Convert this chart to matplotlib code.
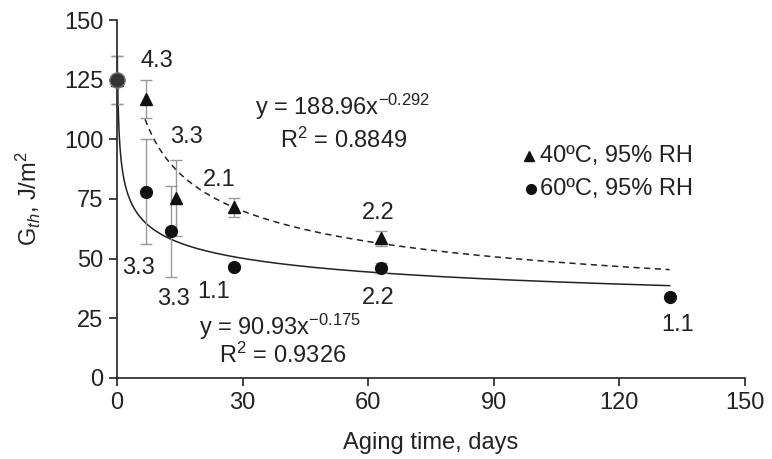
import numpy as np
import matplotlib.pyplot as plt

plt.rcParams['font.family'] = ['Liberation Sans', 'DejaVu Sans']
plt.rcParams['mathtext.fontset'] = 'custom'
plt.rcParams['mathtext.rm'] = 'Liberation Sans'
plt.rcParams['mathtext.it'] = 'Liberation Sans:italic'

# 40ºC, 95% RH
t40 = [0, 7, 14, 28, 63]
g40 = [125, 117, 75.5, 71.5, 58.5]
e40 = [10, 8, 16, 4, 3]

# 60ºC, 95% RH
t60 = [0, 7, 13, 28, 63, 132]
g60 = [125, 78, 61.5, 46.5, 46, 34]
e60 = [10, 22, 19, 0, 2, 0]

# fits
a40, b40 = 188.96, -0.292
a60, b60 = 90.93, -0.175

# number labels: (x, y, text)
labels = [(9.5, 133, '4.3'), (16.5, 101, '3.3'), (24.5, 83, '2.1'), (62.5, 69, '2.2'),
          (5, 46, '3.3'), (13.5, 33, '3.3'), (23, 36, '1.1'), (62.5, 33.5, '2.2'),
          (134, 22, '1.1')]

fs = 17
fig = plt.figure(figsize=(7.72, 4.59), dpi=100)
ax = fig.add_axes([0.1516, 0.1765, 0.8134, 0.7799])

x1 = np.linspace(6.7, 132, 300)
ax.plot(x1, a40 * x1 ** b40, color='#222222', lw=1.1, ls=(0, (4, 3)))
x2 = np.geomspace(0.16, 132, 400)
ax.plot(x2, a60 * x2 ** b60, color='#222222', lw=1.1)

ax.errorbar(t40, g40, yerr=e40, fmt='none', ecolor='#999999', elinewidth=1, capsize=4, clip_on=False)
ax.errorbar(t60, g60, yerr=e60, fmt='none', ecolor='#999999', elinewidth=1, capsize=4, clip_on=False)
ax.plot(t40, g40, '^', color='#111111', ms=8, clip_on=False, zorder=5)
ax.plot(t60[1:], g60[1:], 'o', color='#111111', ms=8.5, clip_on=False, zorder=5)
ax.plot(t60[:1], g60[:1], 'o', color='#333333', mec='#777777', ms=11, clip_on=False, zorder=6)

for x, y, s in labels:
    ax.text(x, y, s, fontsize=fs, ha='center', va='center', color='#222222')

ax.text(54, 113.5, 'y = 188.96x$^{-0.292}$', fontsize=fs, ha='center', va='center', color='#222222')
ax.text(54, 99.5, 'R$^2$ = 0.8849', fontsize=fs, ha='center', va='center', color='#222222')
ax.text(39, 21.5, 'y = 90.93x$^{-0.175}$', fontsize=fs, ha='center', va='center', color='#222222')
ax.text(39.5, 9.5, 'R$^2$ = 0.9326', fontsize=fs, ha='center', va='center', color='#222222')

ax.plot([98.5], [93], '^', color='#111111', ms=7)
ax.text(101, 93, '40ºC, 95% RH', fontsize=fs, va='center', color='#222222')
ax.plot([99], [79], 'o', color='#111111', ms=7)
ax.text(101, 79, '60ºC, 95% RH', fontsize=fs, va='center', color='#222222')

ax.set_xlim(0, 150)
ax.set_ylim(0, 150)
ax.set_xticks(range(0, 151, 30))
ax.set_yticks(range(0, 151, 25))
ax.spines['top'].set_visible(False)
ax.spines['right'].set_visible(False)
for s in ['left', 'bottom']:
    ax.spines[s].set_linewidth(1.2)
    ax.spines[s].set_color('#222222')
ax.tick_params(direction='out', length=6, width=1.2, labelsize=fs, colors='#222222', pad=4)
ax.set_xlabel('Aging time, days', fontsize=fs, color='#222222', labelpad=13)
ax.set_ylabel('G$_{th}$, J/m$^2$', fontsize=fs, color='#222222', labelpad=15)

fig.savefig('out.png', dpi=100)
